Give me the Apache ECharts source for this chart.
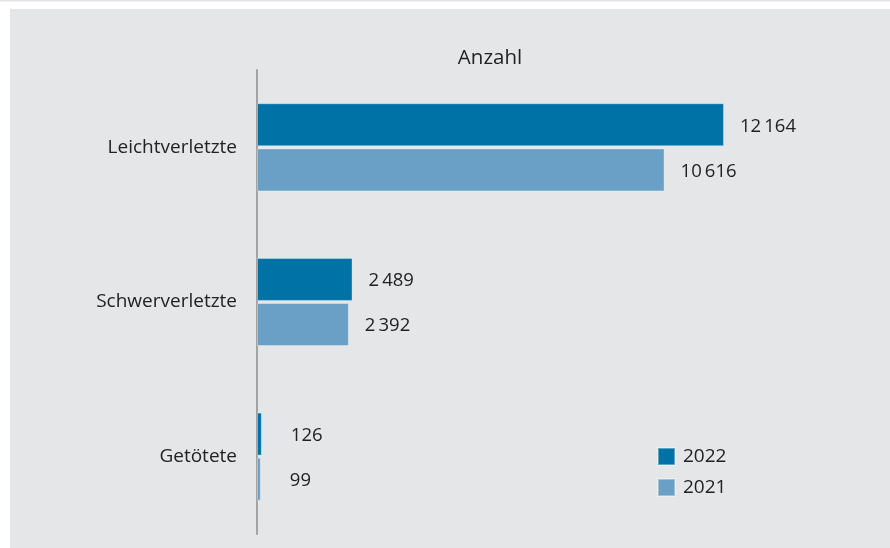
<!DOCTYPE html>
<html><head><meta charset="utf-8">
<script src="https://cdn.jsdelivr.net/npm/echarts@6/dist/echarts.min.js"></script>
<style>html,body{margin:0;padding:0;background:#fff}#c{width:890px;height:548px}</style>
</head><body><div id="c"></div>
<script>
const categories = ['Leichtverletzte', 'Schwerverletzte', 'Getötete'];
const values2022 = [12164, 2489, 126];
const values2021 = [10616, 2392, 99];
const seriesNames = ['2022', '2021'];
const colors = ['#0072a5', '#6a9fc6'];
const FONT = '"Open Sans", "Noto Sans", sans-serif';
const fmt = v => String(v).replace(/\B(?=(\d{3})+(?!\d))/g, '\u2009');
function items(arr){
  return arr.map(v => ({value: v, label: {distance: v < 1000 ? 29 : 16}}));
}
const chart = echarts.init(document.getElementById('c'));
chart.setOption({
  backgroundColor: '#ffffff',
  animation: false,
  graphic: [
    {type: 'rect', shape: {x: 0, y: 0, width: 890, height: 1.5}, style: {fill: '#e3e4e6'}, z: -10},
    {type: 'rect', shape: {x: 10, y: 9, width: 880, height: 539}, style: {fill: '#e5e6e8'}, z: -10}
  ],
  title: {text: 'Anzahl', left: 485, textAlign: 'center', top: 43,
    textStyle: {fontFamily: FONT, fontSize: 20.5, fontWeight: 'normal', color: '#222'}},
  legend: {orient: 'vertical', left: 652, top: 442, itemWidth: 17, itemHeight: 17, itemGap: 12,
    icon: 'rect', data: seriesNames,
    textStyle: {fontFamily: FONT, fontSize: 19, color: '#222', padding: [0, 0, 0, 3]}},
  grid: {left: 257, right: 95.5, top: 70, bottom: 14},
  xAxis: {type: 'value', min: 0, max: 14000, show: false},
  yAxis: {type: 'category', data: categories, inverse: true,
    axisLine: {lineStyle: {color: '#a3a3a3', width: 2}},
    axisTick: {show: false},
    axisLabel: {fontFamily: FONT, fontSize: 19, color: '#222', margin: 20}},
  series: [
    {name: seriesNames[0], type: 'bar', data: items(values2022), barGap: '5%', barCategoryGap: '43%',
      itemStyle: {color: colors[0], borderColor: 'rgba(255,255,255,0.35)', borderWidth: 1},
      label: {show: true, position: 'right', offset: [0, 1.5], fontFamily: FONT, fontSize: 18.5, color: '#222', formatter: p => fmt(p.value)}},
    {name: seriesNames[1], type: 'bar', data: items(values2021),
      itemStyle: {color: colors[1], borderColor: 'rgba(255,255,255,0.35)', borderWidth: 1},
      label: {show: true, position: 'right', offset: [0, 1.5], fontFamily: FONT, fontSize: 18.5, color: '#222', formatter: p => fmt(p.value)}}
  ]
});
</script></body></html>
